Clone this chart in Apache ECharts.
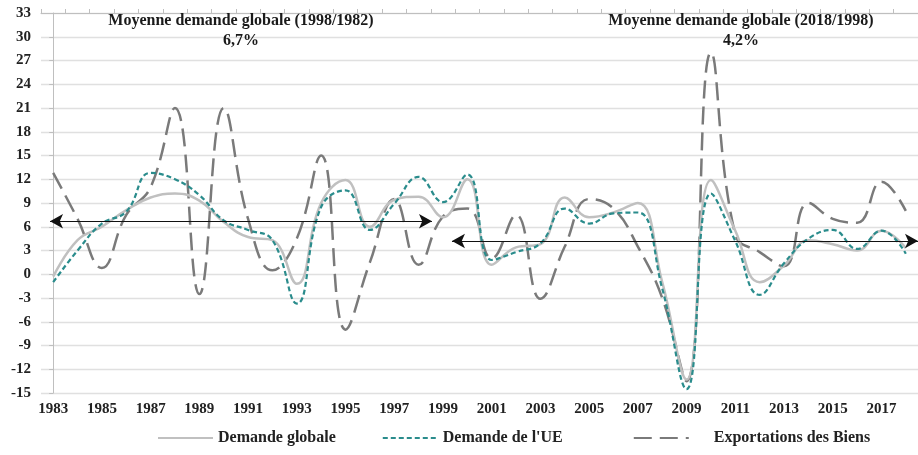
<!DOCTYPE html>
<html>
<head>
<meta charset="utf-8">
<script src="https://cdn.jsdelivr.net/npm/echarts@6/dist/echarts.min.js"></script>
<style>
  html, body { margin: 0; padding: 0; background: #fff; }
  #chart { width: 918px; height: 455px; }
</style>
</head>
<body>
<div id="chart"></div>
<script>
// années
const years = ['1983', '1984', '1985', '1986', '1987', '1988', '1989', '1990', '1991', '1992',
  '1993', '1994', '1995', '1996', '1997', '1998', '1999', '2000', '2001', '2002',
  '2003', '2004', '2005', '2006', '2007', '2008', '2009', '2010', '2011', '2012',
  '2013', '2014', '2015', '2016', '2017', '2018']

// Demande globale (%)
const demandeGlobale = [-0.3, 4.3, 6.0, 8.1, 9.7, 10.2, 9.3, 6.6, 4.7, 4.3,
  -1.2, 9.0, 11.9, 6.0, 9.4, 9.8, 7.2, 12.0, 1.2, 3.4,
  3.8, 9.7, 7.2, 7.8, 9.0, -1.0, -13.3, 11.9, 5.5, -1.0,
  1.1, 4.3, 3.8, 3.0, 5.5, 3.3]

// Demande de l'UE (%)
const demandeUE = [-1.0, 3.0, 6.4, 7.9, 12.8, 12.0, 10.0, 6.8, 5.6, 4.3,
  -3.7, 8.5, 10.6, 5.6, 8.9, 12.3, 9.1, 12.6, 1.8, 2.8,
  3.9, 8.3, 6.4, 7.7, 7.8, -1.8, -14.5, 10.2, 4.2, -2.6,
  1.4, 4.5, 5.6, 3.2, 5.5, 2.6]

// Exportations des Biens (%)
const exportations = [12.8, 7.0, 0.8, 7.5, 11.0, 21.0, -2.5, 21.0, 7.0, 0.5,
  4.5, 15.0, -7.0, 1.5, 9.5, 1.2, 7.3, 8.3, 2.0, 7.5,
  -3.1, 3.5, 9.5, 8.3, 3.5, -3.0, -13.5, 28.0, 5.0, 2.8,
  1.0, 9.0, 7.0, 6.5, 11.7, 8.0]

// moyennes (flèches) : début, fin (position en années depuis 1983), valeur
const moyenne1 = [-0.13, 15.55, 6.7]
const moyenne2 = [16.37, 35.5, 4.2]

const yTicks = { min: -15, max: 33, interval: 3 }

const chart = echarts.init(document.getElementById('chart'))

const serif = 'Liberation Serif'

const option = {
  animation: false,
  backgroundColor: '#fff',
  title: [
    {
      text: 'Moyenne demande globale (1998/1982)\n6,7%',
      left: 236, top: 6, textAlign: 'center',
      textStyle: { fontFamily: serif, fontWeight: 'bold', fontSize: 16, color: '#1a1a1a', lineHeight: 20 }
    },
    {
      text: 'Moyenne demande globale (2018/1998)\n4,2%',
      left: 736, top: 6, textAlign: 'center',
      textStyle: { fontFamily: serif, fontWeight: 'bold', fontSize: 16, color: '#1a1a1a', lineHeight: 20 }
    }
  ],
  legend: {
    bottom: 4,
    left: 152,
    itemWidth: 55,
    itemHeight: 10,
    itemGap: 46,
    itemStyle: { opacity: 0 },
    formatter: function (name) {
      if (name === 'Exportations des Biens') return '     ' + name
      if (name === "Demande de l'UE") return name + '      '
      return name
    },
    textStyle: { fontFamily: serif, fontWeight: 'bold', fontSize: 16, color: '#222' },
    data: ['Demande globale', "Demande de l'UE", 'Exportations des Biens']
  },
  grid: { left: 41, right: 0, top: 13, bottom: 62 },
  xAxis: [
    {
      type: 'category',
      data: years,
      boundaryGap: true,
      axisLine: { show: false },
      axisTick: { show: false },
      axisLabel: { interval: 1, fontFamily: serif, fontWeight: 'bold', fontSize: 15, color: '#222', margin: 9 }
    },
    {
      type: 'category',
      data: years,
      boundaryGap: true,
      axisLine: { onZero: true, lineStyle: { color: '#bfbfbf', width: 1 } },
      axisTick: { show: true, interval: 0, length: 4, lineStyle: { color: '#bfbfbf' } },
      axisLabel: { show: false }
    },
    {
      // axe caché pour placer les flèches entre deux années
      type: 'value',
      show: false,
      min: -0.5,
      max: years.length - 0.5
    }
  ],
  yAxis: {
    type: 'value',
    min: yTicks.min, max: yTicks.max, interval: yTicks.interval,
    axisLine: { show: true, lineStyle: { color: '#bfbfbf' } },
    axisTick: { show: true, length: 4, lineStyle: { color: '#bfbfbf' } },
    axisLabel: { fontFamily: serif, fontWeight: 'bold', fontSize: 15, color: '#222', margin: 10 },
    splitLine: { lineStyle: { color: '#e0e0e0', width: 1.3 } }
  },
  series: [
    {
      name: 'Exportations des Biens',
      type: 'line',
      data: exportations,
      smooth: 0.45,
      symbol: 'none',
      lineStyle: { color: '#7a7a7a', width: 2.5, type: [18, 8] },
      itemStyle: { color: '#7a7a7a' },
      z: 2
    },
    {
      name: 'Demande globale',
      type: 'line',
      data: demandeGlobale,
      smooth: 0.45,
      symbol: 'none',
      lineStyle: { color: '#c0c0c0', width: 2.5 },
      itemStyle: { color: '#c0c0c0' },
      z: 3
    },
    {
      name: "Demande de l'UE",
      type: 'line',
      data: demandeUE,
      smooth: 0.45,
      symbol: 'none',
      lineStyle: { color: '#2a8c8c', width: 2.2, type: [5, 3] },
      itemStyle: { color: '#2a8c8c' },
      z: 4
    },
    {
      name: 'moyennes',
      type: 'line',
      xAxisIndex: 2,
      data: [],
      z: 5,
      markLine: {
        silent: true,
        symbol: ['arrow', 'arrow'],
        symbolSize: [11, 13],
        label: { show: false },
        lineStyle: { color: '#111', width: 1, type: 'solid' },
        data: [
          [{ coord: [moyenne1[0], moyenne1[2]] }, { coord: [moyenne1[1], moyenne1[2]] }],
          [{ coord: [moyenne2[0], moyenne2[2]] }, { coord: [moyenne2[1], moyenne2[2]] }]
        ]
      }
    }
  ]
}

chart.setOption(option)
</script>
</body>
</html>
